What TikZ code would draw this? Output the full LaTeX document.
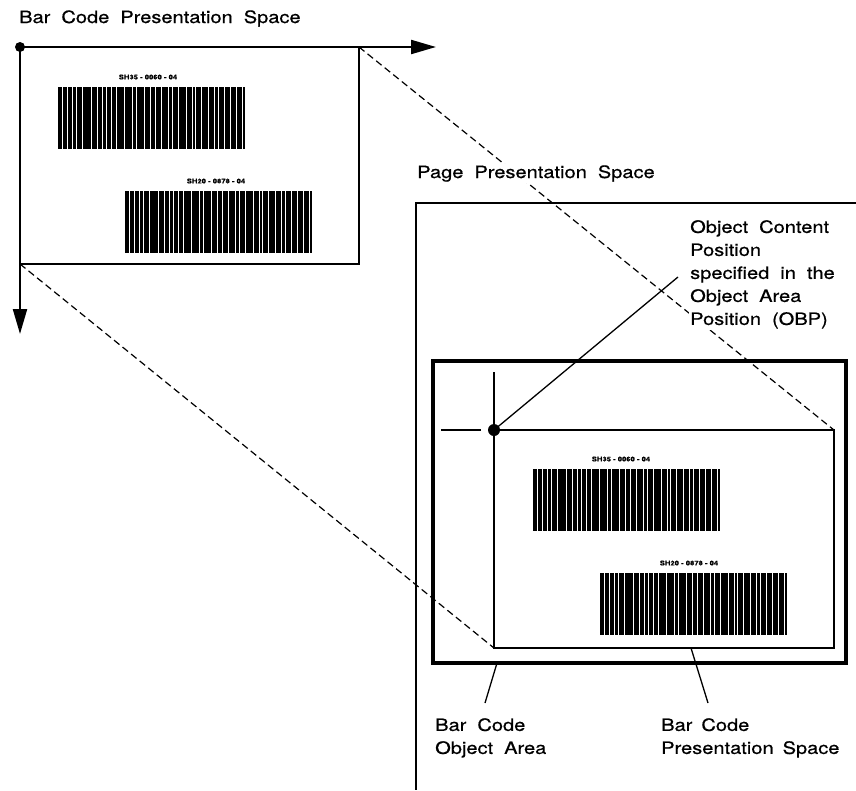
\documentclass[tikz,border=0pt]{standalone}
\usepackage{fontspec}
\setmainfont{TeX Gyre Heros}[FakeStretch=1.18, FakeBold=0.6]
\usetikzlibrary{arrows.meta}

\newcommand{\widesp}{\spaceskip 11pt plus 2pt\relax}

\tikzstyle{txt} = [inner sep=1pt, fill=white, align=left,
   font=\fontsize{17}{23}\selectfont\widesp]
\tikzstyle{codetxt} = [inner sep=0pt, font=\fontsize{6.5}{7}\selectfont\bfseries]
\tikzstyle{proj} = [line width=1.2pt, dash pattern=on 7pt off 4pt]
\tikzstyle{axis} = [line width=2.2pt, -{Triangle[length=25pt,width=14pt]}]
\tikzstyle{frame} = [line width=1.6pt]
\tikzstyle{oarea} = [line width=3.2pt]
\tikzstyle{lead} = [line width=1.3pt]

% one bar code, 187 x 62, top left corner at (#1,#2)
\newcommand{\barcode}[2]{%
  \fill (#1,#2) rectangle ++(187,62);
  \foreach \s in {4,9,18,24,33,39,44,53,58,66,78,86,97,103,110,120,128,
                  134,143,150,156,166,172,178,184}
    \draw[white, line width=0.4pt] ({#1+\s},#2) -- ++(0,62);
  \foreach \s in {14,48,74,92,114,137,160}
    \draw[white, line width=0.9pt] ({#1+\s},#2) -- ++(0,62);
}

\begin{document}
\begin{tikzpicture}[x=1pt,y=-1pt]
  \useasboundingbox (0,0) rectangle (856,790);

  % corners
  \coordinate (o) at (20,47);
  \coordinate (ps tr) at (359,47);
  \coordinate (ps bl) at (20,264);
  \coordinate (ps br) at (359,264);
  \coordinate (xend) at (436,47);
  \coordinate (yend) at (20,334);
  \coordinate (pos) at (494,430);
  \coordinate (in tr) at (834,430);
  \coordinate (in bl) at (494,648);
  \coordinate (in br) at (834,648);

  % 1st pass: dashed lines from the small space to the placed one
  \draw[proj] (ps tr) -- (in tr);
  \draw[proj] (ps bl) -- (in bl);

  % texts
  \node[txt, anchor=base west] (bcps) at (18,23) {Bar Code Presentation Space};
  \node[txt, anchor=base west] (pps) at (416,178) {Page Presentation Space};
  \node[txt, anchor=north west] (obp) at (689,219)
     {Object Content\\Position\\specified in the\\Object Area\\Position (OBP)};
  \node[txt, anchor=north west] (bcoa) at (434,717) {Bar Code\\Object Area};
  \node[txt, anchor=north west, font=\fontsize{17}{23}\selectfont\spaceskip 9pt\relax] (bcps2) at (660,717)
     {Bar Code\\Presentation Space};

  % bar code presentation space
  \draw[frame] (o) rectangle (ps br);
  \draw[axis] (o) -- (xend);
  \draw[axis] (o) -- (yend);
  \fill (o) circle (5);
  \barcode{58}{87}
  \barcode{125}{191}
  \node[codetxt] (c1) at (148,77) {SH35 - 0060 - 04};
  \node[codetxt] (c2) at (216,181) {SH20 - 0878 - 04};

  % page presentation space
  \coordinate (pg tr) at (856,203);
  \coordinate (pg tl) at (416,203);
  \coordinate (pg bl) at (416,790);
  \draw[frame] (pg tr) -- (pg tl) -- (pg bl);

  % object area and the placed bar code
  \coordinate (oa tl) at (433,361);
  \coordinate (oa br) at (846,663);
  \draw[oarea] (oa tl) rectangle (oa br);
  \draw[frame] (pos) rectangle (in br);
  \coordinate (ch w) at (441,430);
  \coordinate (ch e) at (481,430);
  \coordinate (ch n) at (494,372);
  \draw[frame] (ch w) -- (ch e);
  \draw[frame] (ch n) -- (pos);
  \fill (pos) circle (6);
  \barcode{533}{469}
  \barcode{600}{573}
  \node[codetxt] (c3) at (621,459) {SH35 - 0060 - 04};
  \node[codetxt] (c4) at (689,563) {SH20 - 0878 - 04};

  % leaders
  \coordinate (obp tip) at (678,277);
  \coordinate (oa foot) at (497,663);
  \coordinate (oa tip) at (485,703);
  \coordinate (in foot) at (691,648);
  \coordinate (in tip) at (708,703);
  \draw[lead] (pos) -- (obp tip);
  \draw[lead] (oa foot) -- (oa tip);
  \draw[lead] (in foot) -- (in tip);
\end{tikzpicture}
\end{document}
